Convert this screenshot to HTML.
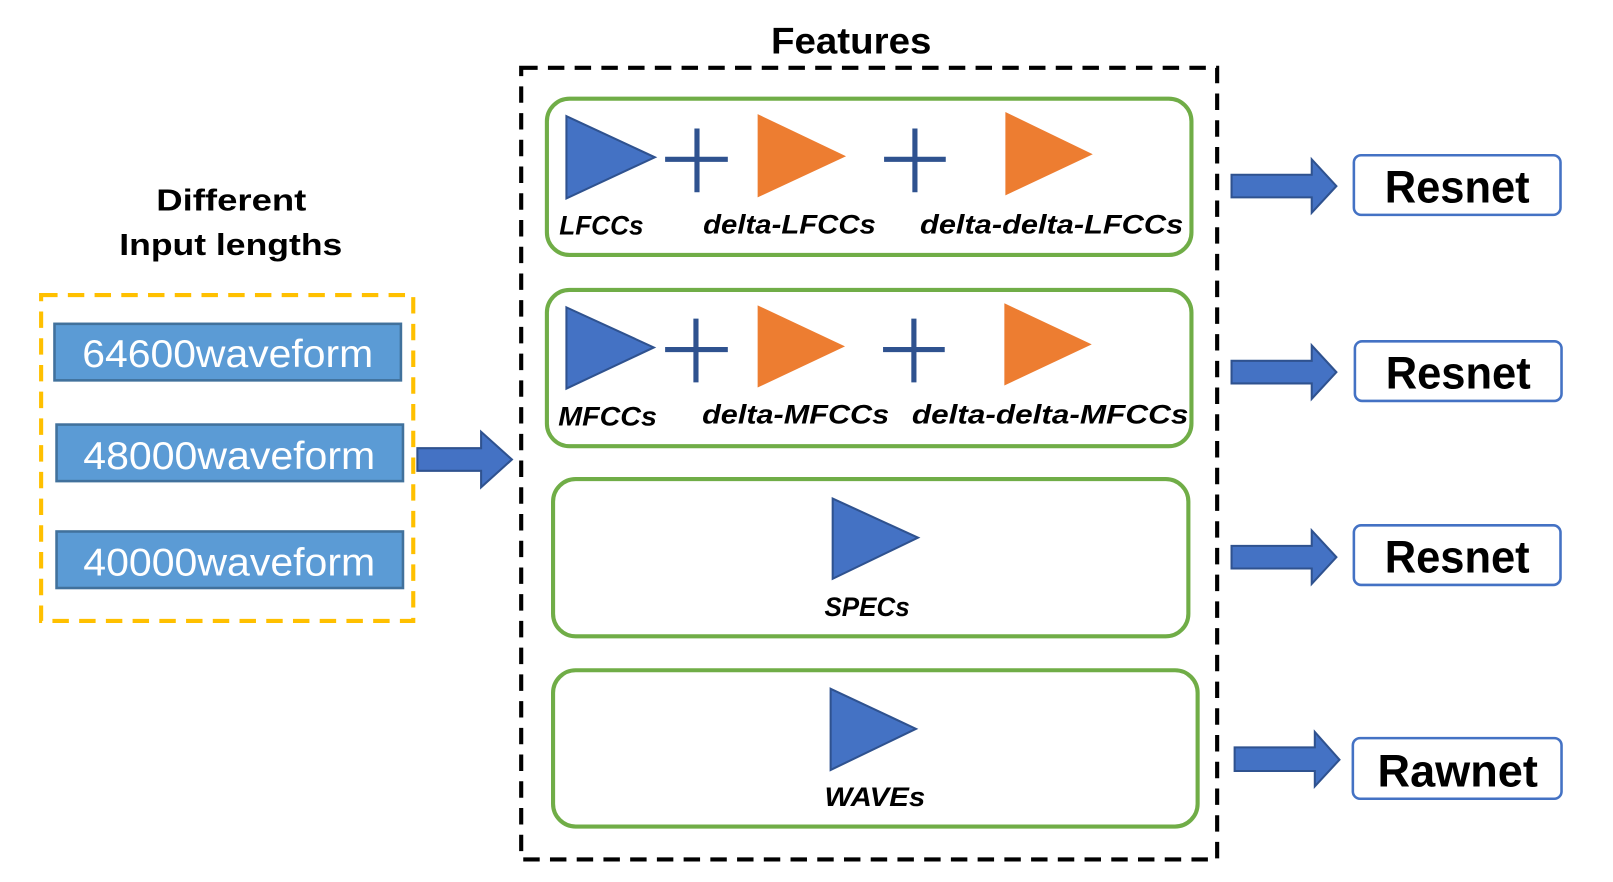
<!DOCTYPE html>
<html><head><style>body{margin:0;background:#fff}svg{display:block}</style></head><body>
<svg width="1613" height="882" xmlns="http://www.w3.org/2000/svg" font-family="'Liberation Sans', sans-serif">
<rect x="0" y="0" width="1613" height="882" fill="#fff"/>
<g transform="scale(1.028)">
<text x="750" y="52" font-size="36" font-weight="bold" textLength="156" lengthAdjust="spacingAndGlyphs">Features</text>
<rect x="507" y="66" width="677" height="770" fill="none" stroke="#000" stroke-width="4" stroke-dasharray="16,10"/>
<text x="152" y="205" font-size="30" font-weight="bold" textLength="146" lengthAdjust="spacingAndGlyphs">Different</text>
<text x="116" y="248" font-size="30" font-weight="bold" textLength="217" lengthAdjust="spacingAndGlyphs">Input lengths</text>
<rect x="40" y="287" width="362" height="317" fill="none" stroke="#FFC000" stroke-width="4" stroke-dasharray="16,10"/>
<g fill="#5B9BD5" stroke="#41719C" stroke-width="2.5">
<rect x="53" y="315" width="337" height="55"/><rect x="55" y="413" width="337" height="55"/><rect x="55" y="517" width="337" height="55"/></g>
<g fill="#fff" font-size="38"><text x="80" y="357" textLength="283" lengthAdjust="spacingAndGlyphs">64600waveform</text><text x="81" y="456" textLength="284" lengthAdjust="spacingAndGlyphs">48000waveform</text><text x="81" y="560" textLength="284" lengthAdjust="spacingAndGlyphs">40000waveform</text></g>
<g fill="none" stroke="#70AD47" stroke-width="4">
<rect x="532" y="96" width="627" height="152" rx="22"/><rect x="532" y="282" width="627" height="152" rx="22"/>
<rect x="538" y="466" width="618" height="153" rx="22"/><rect x="538" y="652" width="627" height="152" rx="22"/></g>
<g fill="#4472C4" stroke="#2F528F" stroke-width="2">
<polygon points="551,113 637,153 551,193"/><polygon points="551,299 636,338 551,378"/>
<polygon points="810,485 893,523 810,563"/><polygon points="808,670 891,709 808,749"/></g>
<g fill="#ED7D31"><polygon points="737,111 823,152 737,192"/><polygon points="978,109 1063,150 978,190"/>
<polygon points="737,297 822,337 737,377"/><polygon points="977,295 1062,335 977,375"/></g>
<g stroke="#2F528F" stroke-width="5"><path d="M647 155H708M678 125V187M860 155H920M890 125V187M647 340H708M677 310V372M859 340H919M889 310V372"/></g>
<g font-size="26" font-style="italic" font-weight="bold" lengthAdjust="spacingAndGlyphs">
<text x="544" y="228" textLength="82" lengthAdjust="spacingAndGlyphs">LFCCs</text><text x="684" y="227" textLength="168" lengthAdjust="spacingAndGlyphs">delta-LFCCs</text><text x="895" y="227" textLength="256" lengthAdjust="spacingAndGlyphs">delta-delta-LFCCs</text>
<text x="543" y="414" textLength="96" lengthAdjust="spacingAndGlyphs">MFCCs</text><text x="683" y="412" textLength="182" lengthAdjust="spacingAndGlyphs">delta-MFCCs</text><text x="887" y="412" textLength="269" lengthAdjust="spacingAndGlyphs">delta-delta-MFCCs</text>
<text x="802" y="599" textLength="83" lengthAdjust="spacingAndGlyphs">SPECs</text><text x="802" y="784" textLength="98" lengthAdjust="spacingAndGlyphs">WAVEs</text></g>
<g fill="#4472C4" stroke="#2F528F" stroke-width="2">
<polygon points="406,436 468,436 468,420 498,447 468,474 468,458 406,458"/>
<polygon points="1198,170 1276,170 1276,155 1300,181 1276,207 1276,192 1198,192"/>
<polygon points="1198,351 1276,351 1276,336 1300,362 1276,388 1276,373 1198,373"/>
<polygon points="1198,531 1276,531 1276,516 1300,542 1276,568 1276,553 1198,553"/>
<polygon points="1201,727 1279,727 1279,712 1303,739 1279,765 1279,750 1201,750"/></g>
<g fill="#fff" stroke="#4472C4" stroke-width="2.5">
<rect x="1317" y="151" width="201" height="58" rx="7"/><rect x="1318" y="332" width="201" height="58" rx="7"/>
<rect x="1317" y="511" width="201" height="58" rx="7"/><rect x="1316" y="718" width="203" height="59" rx="7"/></g>
<g font-size="44" font-weight="bold">
<text x="1347" y="197" textLength="141" lengthAdjust="spacingAndGlyphs">Resnet</text><text x="1348" y="378" textLength="141" lengthAdjust="spacingAndGlyphs">Resnet</text><text x="1347" y="557" textLength="141" lengthAdjust="spacingAndGlyphs">Resnet</text><text x="1340" y="765" textLength="156" lengthAdjust="spacingAndGlyphs">Rawnet</text></g>
</g>
</svg>
</body></html>
